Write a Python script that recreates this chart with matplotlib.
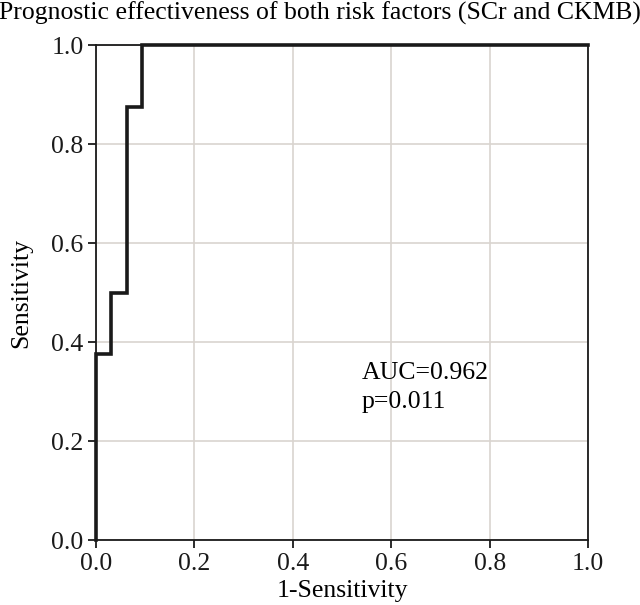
import numpy as np
import matplotlib
matplotlib.use("Agg")
import matplotlib.pyplot as plt

plt.rcParams['font.family'] = ['Liberation Serif', 'DejaVu Serif']

# ROC curve points (1-specificity, sensitivity)
fpr = [0.0, 0.0, 0.031, 0.031, 0.0625, 0.0625, 0.094, 0.094, 1.0]
tpr = [0.0, 0.375, 0.375, 0.5, 0.5, 0.875, 0.875, 1.0, 1.0]
ticks = [0.0, 0.2, 0.4, 0.6, 0.8, 1.0]
auc = 0.962
pval = 0.011

fs = 18.5
fig = plt.figure(figsize=(6.4, 6.05), dpi=100)
ax = fig.add_axes([0.15, 0.1074, 0.769, 0.8182])

ax.plot(fpr, tpr, color='#1a1a1a', lw=2.6, solid_joinstyle='miter', clip_on=False, zorder=3)
ax.set_xlim(0, 1)
ax.set_ylim(0, 1)
ax.set_xticks(ticks)
ax.set_yticks(ticks)
ax.set_xticklabels([f"{t:.1f}" for t in ticks])
ax.set_yticklabels([f"{t:.1f}" for t in ticks])
ax.grid(True, color='#d9d4cf', lw=1.2)
ax.set_axisbelow(True)
for s in ax.spines.values():
    s.set_linewidth(1.3)
    s.set_color('#1a1a1a')
ax.tick_params(labelsize=fs, width=1.3, length=6, direction='out', colors='#1a1a1a', pad=3)

ax.set_xlabel("1-Sensitivity", fontsize=fs, labelpad=4)
ax.set_ylabel("Sensitivity", fontsize=fs, labelpad=14)
fig.suptitle("Prognostic effectiveness of both risk factors (SCr and CKMB)", fontsize=fs, x=0.5, y=0.997, va='top')

ax.text(0.54, 0.36, f"AUC={auc}\np={pval}", fontsize=fs, va='top', ha='left', linespacing=1.45)

fig.savefig("out.png", dpi=100)
